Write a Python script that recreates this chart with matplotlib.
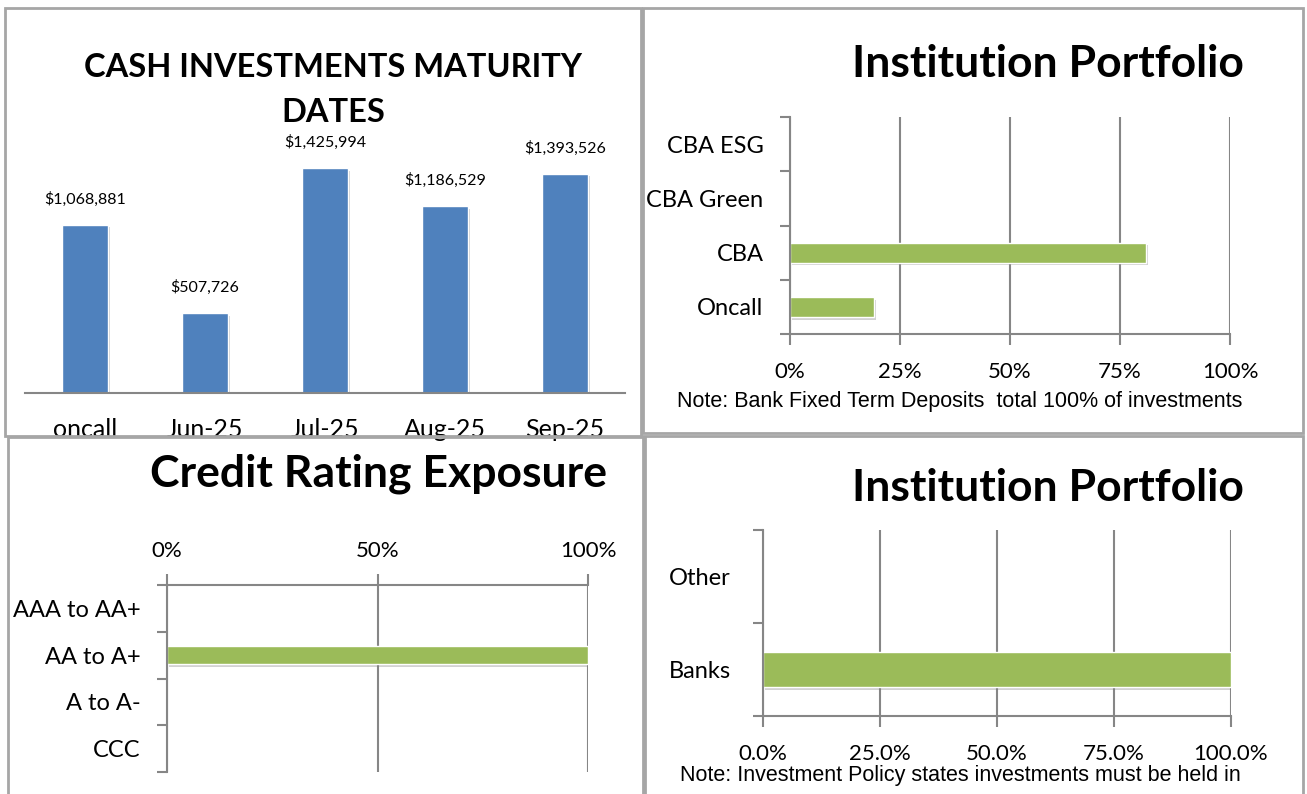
"""Cash investment summary: maturity dates, institution portfolio and credit rating exposure."""

import matplotlib

matplotlib.use("Agg")
import matplotlib.patheffects as pe
import matplotlib.pyplot as plt
from matplotlib import font_manager
from matplotlib.patches import Rectangle
from matplotlib.ticker import FixedLocator, PercentFormatter

# data
maturity_labels = ["oncall", "Jun-25", "Jul-25", "Aug-25", "Sep-25"]
maturity_values = [1068881, 507726, 1425994, 1186529, 1393526]

institution_labels = ["Oncall", "CBA", "CBA Green", "CBA ESG"]
institution_shares = [0.19, 0.81, 0.0, 0.0]

rating_labels = ["AAA to AA+", "AA to A+", "A to A-", "CCC"]
rating_shares = [0.0, 1.0, 0.0, 0.0]

sector_labels = ["Banks", "Other"]
sector_shares = [1.0, 0.0]

note_top = "Note: Bank Fixed Term Deposits  total 100% of investments"
note_bottom = "Note: Investment Policy states investments must be held in"

BLUE = "#4F81BD"
GREEN = "#9BBB59"
GRID = "#868686"
BORDER = "#A6A6A6"

installed = {f.name for f in font_manager.fontManager.ttflist}
NARROW = "Liberation Sans Narrow" if "Liberation Sans Narrow" in installed else "Liberation Sans"
plt.rcParams["font.family"] = ["Lato", "DejaVu Sans"]

W, H = 1307, 794
fig = plt.figure(figsize=(W / 100, H / 100), dpi=100)
fig.patch.set_facecolor("white")

shadow = [pe.SimplePatchShadow(offset=(1.5, -2), shadow_rgbFace="#7f7f7f", alpha=0.35), pe.Normal()]


def px_axes(x0, y0, x1, y1):
    return fig.add_axes([x0 / W, 1 - y1 / H, (x1 - x0) / W, (y1 - y0) / H])


def box(x0, y0, x1, y1):
    fig.add_artist(Rectangle((x0 / W, 1 - y1 / H), (x1 - x0) / W, (y1 - y0) / H,
                             transform=fig.transFigure, fill=False, ec=BORDER, lw=2))


def style_hbar(ax, n):
    ax.set_ylim(-0.5, n - 0.5)
    ax.set_yticks(range(n))
    ax.yaxis.set_minor_locator(FixedLocator([i - 0.5 for i in range(n + 1)]))
    ax.tick_params(axis="y", which="major", length=0, pad=19, labelsize=17)
    ax.tick_params(axis="y", which="minor", length=7, width=1.5, color=GRID)
    ax.set_xlim(0, 1)
    ax.grid(axis="x", color=GRID, lw=1.5)
    ax.set_axisbelow(True)
    for side in ("top", "right", "bottom", "left"):
        ax.spines[side].set_color(GRID)
        ax.spines[side].set_linewidth(1.5)


# --- top left: maturity dates
box(5, 8, 641, 436)
ax1 = px_axes(25, 141, 625, 393)
bars = ax1.bar(range(len(maturity_values)), maturity_values, width=0.38, color=BLUE,
               edgecolor="white", lw=1)
for b in bars:
    b.set_path_effects(shadow)
for i, v in enumerate(maturity_values):
    ax1.annotate(f"${v:,.0f}", (i, v), xytext=(0, 13), textcoords="offset points",
                 ha="center", va="bottom", fontsize=11.5)
ax1.set_xlim(-0.5, len(maturity_values) - 0.5)
ax1.set_ylim(0, 1.6e6)
ax1.set_xticks(range(len(maturity_labels)), maturity_labels)
ax1.tick_params(axis="x", length=0, pad=18, labelsize=18)
ax1.set_yticks([])
for side in ("top", "right", "left"):
    ax1.spines[side].set_visible(False)
ax1.spines["bottom"].set_color(GRID)
ax1.spines["bottom"].set_linewidth(1.5)
fig.text(333 / W, 1 - 90 / H, "CASH INVESTMENTS MATURITY\nDATES", ha="center", va="center",
         fontsize=23.5, fontweight="bold", linespacing=1.7)

# --- top right: institution portfolio
box(643, 8, 1303, 433)
ax2 = px_axes(790, 117, 1230, 334)
bars = ax2.barh(range(len(institution_shares)), institution_shares, height=0.37, color=GREEN,
                edgecolor="white", lw=1)
for b in bars:
    b.set_path_effects(shadow)
style_hbar(ax2, len(institution_labels))
ax2.set_yticklabels(institution_labels)
ax2.set_xticks([0, 0.25, 0.5, 0.75, 1.0])
ax2.xaxis.set_major_formatter(PercentFormatter(1.0, decimals=0))
ax2.tick_params(axis="x", length=8, width=1.5, color=GRID, pad=12, labelsize=16)
ax2.spines["top"].set_visible(False)
ax2.spines["right"].set_visible(False)
fig.text(1048 / W, 1 - 64 / H, "Institution Portfolio", ha="center", va="center",
         fontsize=32, fontweight="bold")
fig.text(960 / W, 1 - 402 / H, note_top, ha="center", va="center", fontsize=15.5, family=NARROW)

# --- bottom left: credit rating exposure
box(8, 437, 645, 800)
ax3 = px_axes(167, 585, 588, 772)
bars = ax3.barh(range(len(rating_shares)), rating_shares, height=0.39, color=GREEN,
                edgecolor="white", lw=1)
for b in bars:
    b.set_path_effects(shadow)
style_hbar(ax3, len(rating_labels))
ax3.set_yticklabels(rating_labels)
ax3.invert_yaxis()
ax3.set_xticks([0, 0.5, 1.0])
ax3.xaxis.set_major_formatter(PercentFormatter(1.0, decimals=0))
ax3.xaxis.tick_top()
ax3.tick_params(axis="x", length=8, width=1.5, color=GRID, pad=9, labelsize=16)
ax3.spines["bottom"].set_visible(False)
ax3.spines["right"].set_visible(False)
fig.text(379 / W, 1 - 474 / H, "Credit Rating Exposure", ha="center", va="center",
         fontsize=32, fontweight="bold")

# --- bottom right: banks vs other
box(643, 436, 1303, 800)
ax4 = px_axes(763, 530, 1231, 716)
bars = ax4.barh(range(len(sector_shares)), sector_shares, height=0.375, color=GREEN,
                edgecolor="white", lw=1)
for b in bars:
    b.set_path_effects(shadow)
style_hbar(ax4, len(sector_labels))
ax4.set_yticklabels(sector_labels, ha="left")
ax4.tick_params(axis="y", which="major", pad=68)
ax4.set_xticks([0, 0.25, 0.5, 0.75, 1.0])
ax4.xaxis.set_major_formatter(PercentFormatter(1.0, decimals=1))
ax4.tick_params(axis="x", length=8, width=1.5, color=GRID, pad=12, labelsize=16)
ax4.spines["top"].set_visible(False)
ax4.spines["right"].set_visible(False)
fig.text(1048 / W, 1 - 488 / H, "Institution Portfolio", ha="center", va="center",
         fontsize=32, fontweight="bold")
fig.text(960 / W, 1 - 775 / H, note_bottom, ha="center", va="center", fontsize=15.5, family=NARROW)

fig.savefig("out.png", dpi=100, facecolor="white")
plt.close(fig)
